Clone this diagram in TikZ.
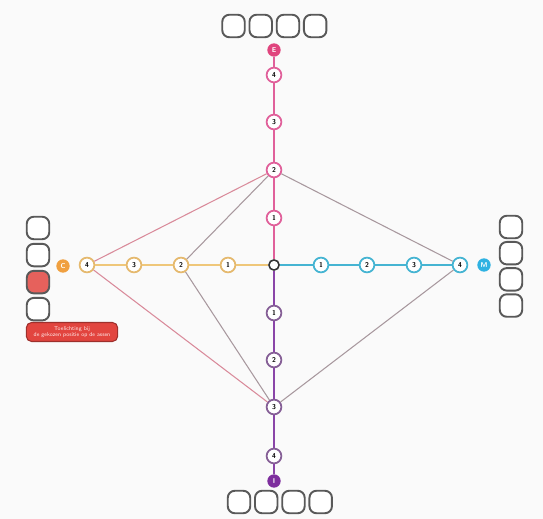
\documentclass[tikz,border=0pt]{standalone}
\usepackage{tikz}
\usetikzlibrary{positioning}
\definecolor{pinkax}{HTML}{E0609A}
\definecolor{pinkdot}{HTML}{E0457E}
\definecolor{orangeax}{HTML}{EFC77A}
\definecolor{orangedot}{HTML}{F0A040}
\definecolor{blueax}{HTML}{45B4D2}
\definecolor{bluedot}{HTML}{2FB2E2}
\definecolor{purpleax}{HTML}{8A45A8}
\definecolor{purpledot}{HTML}{7E2E9E}
\definecolor{diagpink}{HTML}{D98A9A}
\definecolor{diaggray}{HTML}{A8989E}
\definecolor{redbtn}{HTML}{E2453F}

\begin{document}
\begin{tikzpicture}[
  x=0.02cm, y=-0.02cm,
  num/.style={circle, draw=#1, line width=1pt, fill=white,
              minimum size=8.4pt, inner sep=0pt,
              font=\fontsize{4}{4}\selectfont\sffamily\bfseries},
  enddot/.style={circle, fill=#1, minimum size=7.6pt, inner sep=0pt,
                 text=white, font=\fontsize{4}{4}\selectfont\sffamily\bfseries},
  ctr/.style={circle, draw=black!80, line width=0.9pt, fill=white,
              minimum size=5.8pt, inner sep=0pt},
  slot/.style={rectangle, draw=black!65, line width=1.1pt, rounded corners=4pt,
               minimum size=12.8pt, inner sep=0pt, fill=white},
  axisline/.style={line width=1.1pt, #1},
  diag/.style={line width=0.6pt, #1}
]
  % background and page size
  \fill[gray!4] (0,0) rectangle (543,519);
  \useasboundingbox (0,0) rectangle (543,519);

  \node[ctr] (c) at (274,265) {};

  % top axis
  \node[num=pinkax] (t1) at (274,218) {1};
  \node[num=pinkax] (t2) at (274,170) {2};
  \node[num=pinkax] (t3) at (274,122) {3};
  \node[num=pinkax] (t4) at (274,75)  {4};
  \node[enddot=pinkdot] (tE) at (274,50) {E};

  % bottom axis
  \node[num=purpleax!55!gray] (b1) at (274,313) {1};
  \node[num=purpleax!55!gray] (b2) at (274,360) {2};
  \node[num=purpleax!55!gray] (b3) at (274,407) {3};
  \node[num=purpleax!55!gray] (b4) at (274,456) {4};
  \node[enddot=purpledot] (bE) at (274,481) {I};

  % left axis
  \node[num=orangeax!80!brown] (l1) at (228,265) {1};
  \node[num=orangeax!80!brown] (l2) at (181,265) {2};
  \node[num=orangeax!80!brown] (l3) at (134,265) {3};
  \node[num=orangeax!80!brown] (l4) at (87,265)  {4};
  \node[enddot=orangedot] (lE) at (63,266) {C};

  % right axis
  \node[num=blueax] (r1) at (321,265) {1};
  \node[num=blueax] (r2) at (367,265) {2};
  \node[num=blueax] (r3) at (414,265) {3};
  \node[num=blueax] (r4) at (460,265) {4};
  \node[enddot=bluedot] (rE) at (484,265) {M};

  % diagonals
  \draw[diag=diagpink] (t2) -- (l4);
  \draw[diag=diagpink] (l4) -- (b3);
  \draw[diag=diaggray] (t2) -- (r4);
  \draw[diag=diaggray] (r4) -- (b3);
  \draw[diag=diaggray] (t2) -- (l2);
  \draw[diag=diaggray] (l2) -- (b3);

  % axes
  \draw[axisline=pinkax]   (c) -- (t1) -- (t2) -- (t3) -- (t4) -- (tE);
  \draw[axisline=purpleax] (c) -- (b1) -- (b2) -- (b3) -- (b4) -- (bE);
  \draw[axisline=orangeax] (c) -- (l1) -- (l2) -- (l3) -- (l4);
  \draw[axisline=blueax]   (c) -- (r1) -- (r2) -- (r3) -- (r4);

  % answer boxes, top
  \node[slot] (tb1) at (233.5,26) {};
  \node[slot, right=1.6pt of tb1] (tb2) {};
  \node[slot, right=1.6pt of tb2] (tb3) {};
  \node[slot, right=1.6pt of tb3] (tb4) {};

  % answer boxes, bottom
  \node[slot] (bb1) at (239,502) {};
  \node[slot, right=1.6pt of bb1] (bb2) {};
  \node[slot, right=1.6pt of bb2] (bb3) {};
  \node[slot, right=1.6pt of bb3] (bb4) {};

  % answer boxes, right
  \node[slot] (rb1) at (511,227) {};
  \node[slot, below=1pt of rb1] (rb2) {};
  \node[slot, below=1pt of rb2] (rb3) {};
  \node[slot, below=1pt of rb3] (rb4) {};

  % answer boxes, left
  \node[slot] (lb1) at (38,228) {};
  \node[slot, below=1.5pt of lb1] (lb2) {};
  \node[slot, below=1.5pt of lb2, fill=redbtn!85] (lb3) {};
  \node[slot, below=1.5pt of lb3] (lb4) {};

  \node[rectangle, fill=redbtn, draw=redbtn!70!black, line width=0.6pt,
        rounded corners=3pt, minimum width=52pt, minimum height=10.8pt,
        inner sep=1pt, align=center, text=white!92!red,
        font=\fontsize{3.2}{3.6}\selectfont\sffamily]
        (note) at (72,332) {Toelichting bij\\de gekozen positie op de assen};
\end{tikzpicture}
\end{document}
